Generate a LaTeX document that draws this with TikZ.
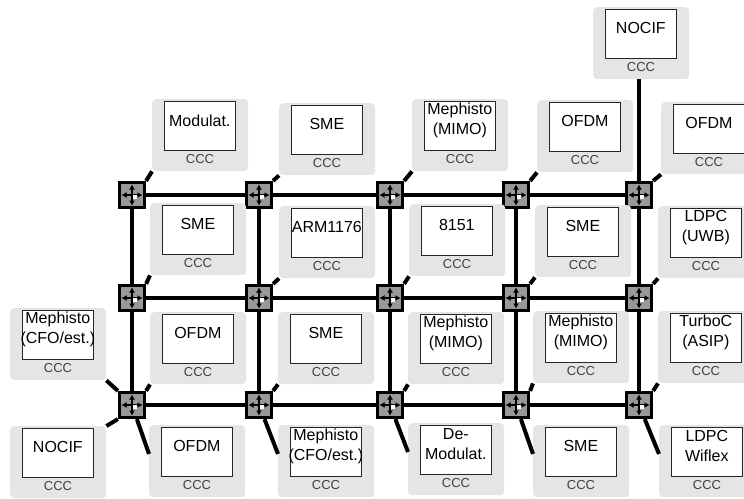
\documentclass[tikz,border=0pt]{standalone}
\usepackage{fontspec}
\setmainfont{Liberation Sans}
\usetikzlibrary{arrows.meta,calc}

\begin{document}
\begin{tikzpicture}[x=1pt,y=-1pt,
        tile/.style={fill=black!10, rounded corners=4pt, minimum width=96pt, minimum height=72pt, anchor=north west, inner sep=0pt},
        unit/.style={draw=black!85, fill=white, line width=0.7pt, minimum width=71pt, minimum height=49pt, anchor=north west, inner sep=0pt},
        unitname/.style={font=\fontsize{16}{20}\selectfont, align=center, inner sep=0pt},
        ccc/.style={font=\fontsize{13}{15}\selectfont, text=black!75, inner sep=0pt},
        router/.style={draw, line width=3.2pt, fill=black!40, minimum size=25pt, inner sep=0pt,
            path picture={
                \foreach \a in {0,90,180,270}
                    \draw[line width=1.3pt, -{Latex[length=5pt,width=6pt]}] (path picture bounding box.center) -- ++(\a:10.5pt);
                \fill[white] ([shift={(1pt,-3.5pt)}]path picture bounding box.center) rectangle ++(3.5pt,3.5pt);
            }},
        link/.style={line width=4pt}]
        \clip (0,0) rectangle (744,498);
        % routers
        \foreach \c/\x in {1/132,2/259,3/390,4/516,5/639}{
            \foreach \r/\y in {1/195,2/298,3/405}{
                \node[router] (r\r\c) at (\x,\y) {};
            }
        }
        % tiles
        \foreach \n/\x/\y/\t in {11/152/99/Modulat., 12/279/103/SME, 13/412/99/{Mephisto\\(MIMO)}, 14/537/100/OFDM, 15/661/102/OFDM,
                21/150/203/SME, 22/279/206/ARM1176, 23/409/204/8151, 24/535/205/SME, 25/658/206/{LDPC\\(UWB)},
                31/150/312/OFDM, 32/278/312/SME, 33/408/312/{Mephisto\\(MIMO)}, 34/533/311/{Mephisto\\(MIMO)}, 35/658/311/{TurboC\\(ASIP)},
                41/149/425/OFDM, 42/278/425/{Mephisto\\(CFO/est.)}, 43/408/423/{De-\\Modulat.}, 44/533/425/SME, 45/659/425/{LDPC\\Wiflex},
                w3/10/308/{Mephisto\\(CFO/est.)}, w4/10/426/NOCIF, n/593/7/NOCIF}{
            \node[tile] (t\n) at (\x,\y) {};
            \node[unit] (b\n) at (\x+12,\y+1.5) {};
            \node[unitname] (l\n) at ([yshift=5pt]b\n.center) {\t};
            \node[ccc] (c\n) at (\x+48,\y+60) {CCC};
        }
        % mesh links
        \foreach \r in {1,2,3}{
            \foreach \c [evaluate=\c as \d using int(\c+1)] in {1,...,4}{
                \draw[link] (r\r\c) -- (r\r\d);
            }
        }
        \foreach \c in {1,...,5}{
            \draw[link] (r1\c) -- (r2\c);
            \draw[link] (r2\c) -- (r3\c);
        }
        % tile links
        \foreach \r in {1,2,3}{
            \foreach \c in {1,...,5}{
                \draw[link] (r\r\c.north east) -- (t\r\c.south west);
            }
        }
        \foreach \c in {1,...,5}{
            \draw[link] (r3\c) -- ($(t4\c.north west)!0.4!(t4\c.south west)$);
        }
        \draw[link] (tw3.south east) -- (r31.north west);
        \draw[link] (r31.south west) -- (tw4.north east);
        \draw[link] (r15.north) -- (r15.north |- tn.south);
    \end{tikzpicture}
\end{document}
